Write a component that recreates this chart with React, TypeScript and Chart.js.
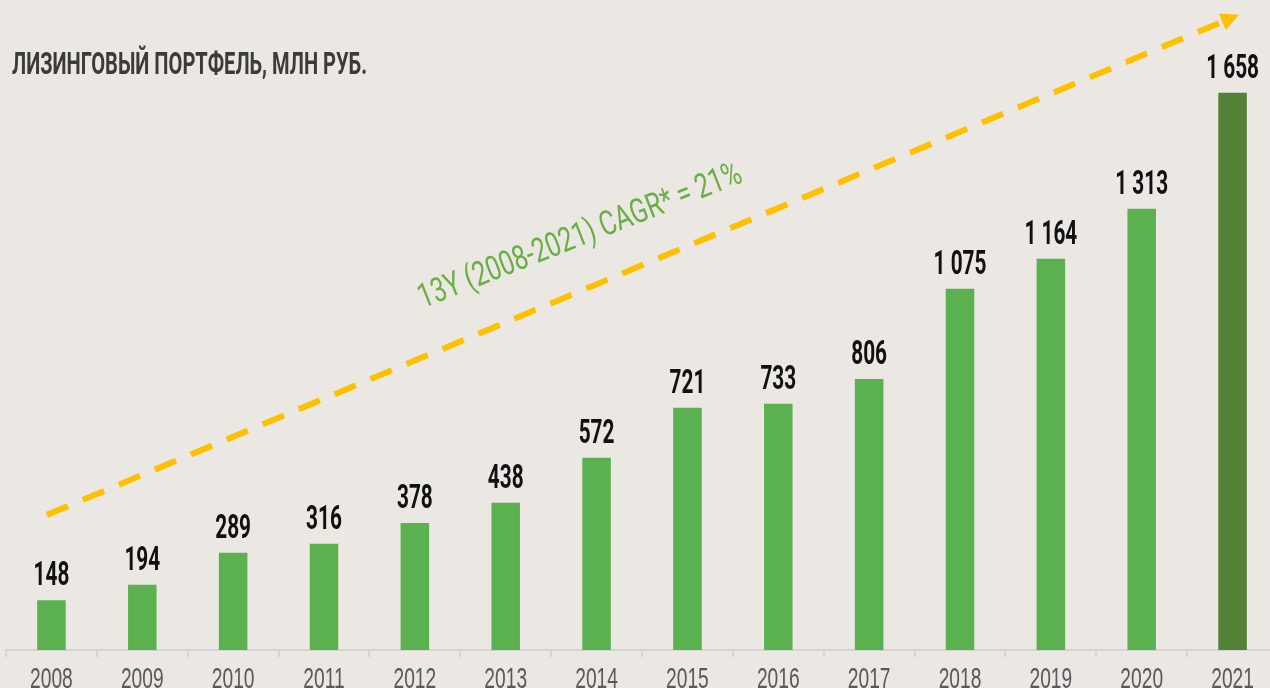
import React, { useEffect, useRef } from "react";
import { Chart, registerables } from "chart.js";

Chart.register(...registerables);

const years = ["2008", "2009", "2010", "2011", "2012", "2013", "2014", "2015", "2016", "2017", "2018", "2019", "2020", "2021"];
const portfolio = [148, 194, 289, 316, 378, 438, 572, 721, 733, 806, 1075, 1164, 1313, 1658];
const valueLabels = ["148", "194", "289", "316", "378", "438", "572", "721", "733", "806", "1 075", "1 164", "1 313", "1 658"];
const barColors = [
  "#5bb150", "#5bb150", "#5bb150", "#5bb150", "#5bb150", "#5bb150", "#5bb150",
  "#5bb150", "#5bb150", "#5bb150", "#5bb150", "#5bb150", "#5bb150", "#538135",
];
const titleText = "ЛИЗИНГОВЫЙ ПОРТФЕЛЬ, МЛН РУБ.";
const cagrText = "13Y (2008-2021) CAGR* = 21%";
// trend arrow endpoints in data space (category index, value)
const trendFrom = { x: -0.05, y: 402 };
const trendTo = { x: 13.07, y: 1890 };
const cagrAnchor = { x: 4.09, y: 1017 };
const yMax = 1800;

const overlayPlugin = {
  id: "overlay",
  afterDraw(chart: any) {
    const ctx = chart.ctx as CanvasRenderingContext2D;
    const xs = chart.scales.x;
    const ys = chart.scales.y;

    // title
    ctx.save();
    ctx.font = "bold 31px Roboto";
    const tw = ctx.measureText(titleText).width;
    ctx.translate(12, 74);
    ctx.scale(355 / tw, 1);
    ctx.fillStyle = "#3b3b3b";
    ctx.textAlign = "left";
    ctx.textBaseline = "alphabetic";
    ctx.fillText(titleText, 0, 0);
    ctx.restore();

    // category (year) labels under the axis
    xs.ticks.forEach((_t: any, i: number) => {
      const px = xs.getPixelForTick(i);
      ctx.save();
      ctx.translate(px, chart.chartArea.bottom + 38);
      ctx.scale(0.64, 1);
      ctx.font = "30px 'Liberation Sans'";
      ctx.fillStyle = "#595959";
      ctx.textAlign = "center";
      ctx.textBaseline = "alphabetic";
      ctx.fillText(years[i], 0, 0);
      ctx.restore();
    });

    // value labels
    const meta = chart.getDatasetMeta(0);
    meta.data.forEach((el: any, i: number) => {
      ctx.save();
      ctx.translate(el.x, el.y - 15);
      ctx.scale(0.63, 1);
      ctx.font = "bold 33px Roboto";
      ctx.fillStyle = "#111111";
      ctx.textAlign = "center";
      ctx.textBaseline = "alphabetic";
      ctx.fillText(valueLabels[i], 0, 0);
      ctx.restore();
    });

    // trend arrow
    const x0 = xs.getPixelForValue(trendFrom.x);
    const y0 = ys.getPixelForValue(trendFrom.y);
    const x1 = xs.getPixelForValue(trendTo.x);
    const y1 = ys.getPixelForValue(trendTo.y);
    const ang = Math.atan2(y1 - y0, x1 - x0);
    const headLen = 18;
    const headHalf = 9;
    const bx = x1 - headLen * Math.cos(ang);
    const by = y1 - headLen * Math.sin(ang);
    ctx.save();
    ctx.strokeStyle = "#ffc000";
    ctx.lineWidth = 6;
    ctx.setLineDash([23, 16]);
    ctx.beginPath();
    ctx.moveTo(x0, y0);
    ctx.lineTo(bx + 2 * Math.cos(ang), by + 2 * Math.sin(ang));
    ctx.stroke();
    ctx.setLineDash([]);
    ctx.fillStyle = "#ffc000";
    ctx.beginPath();
    ctx.moveTo(x1, y1);
    ctx.lineTo(bx + headHalf * Math.sin(ang), by - headHalf * Math.cos(ang));
    ctx.lineTo(bx - headHalf * Math.sin(ang), by + headHalf * Math.cos(ang));
    ctx.closePath();
    ctx.fill();
    ctx.restore();

    // CAGR annotation
    const ax = xs.getPixelForValue(cagrAnchor.x);
    const ay = ys.getPixelForValue(cagrAnchor.y);
    ctx.save();
    ctx.font = "400 34px Roboto";
    const cw = ctx.measureText(cagrText).width;
    ctx.translate(ax, ay);
    ctx.rotate(-21.5 * Math.PI / 180);
    ctx.scale(345 / cw, 1);
    ctx.fillStyle = "#6cae46";
    ctx.textAlign = "left";
    ctx.textBaseline = "alphabetic";
    ctx.fillText(cagrText, 0, 0);
    ctx.restore();
  },
};

export default function App() {
  const ref = useRef<HTMLCanvasElement | null>(null);

  useEffect(() => {
    if (!ref.current) return;
    const chart = new Chart(ref.current, {
      type: "bar",
      data: {
        labels: years,
        datasets: [
          {
            data: portfolio,
            backgroundColor: barColors,
            borderWidth: 0,
            categoryPercentage: 1,
            barPercentage: 0.314,
          },
        ],
      },
      options: {
        responsive: false,
        animation: false,
        layout: { padding: { top: 45, left: 6, right: 12, bottom: 0 } },
        plugins: {
          legend: { display: false },
          tooltip: { enabled: false },
          title: { display: false },
        },
        scales: {
          x: {
            afterFit: (scale: any) => {
              scale.height = 38;
            },
            grid: {
              display: true,
              drawOnChartArea: false,
              drawTicks: true,
              tickLength: 7,
              color: "#d4d4d4",
              lineWidth: 2,
              offset: true,
            },
            border: { display: true, color: "#d4d4d4", width: 2 },
            ticks: {
              display: false,
              maxRotation: 0,
              autoSkip: false,
            },
          },
          y: {
            display: false,
            min: 0,
            max: yMax,
          },
        },
      },
      plugins: [overlayPlugin],
    });
    return () => chart.destroy();
  }, []);

  return (
    <div
      style={{
        position: "fixed",
        left: 0,
        top: 0,
        width: "1270px",
        height: "688px",
        overflow: "hidden",
        background: "#ebe8e3",
      }}
    >
      <canvas ref={ref} width={1290} height={688} style={{ display: "block", width: "1290px", height: "688px" }} />
    </div>
  );
}
